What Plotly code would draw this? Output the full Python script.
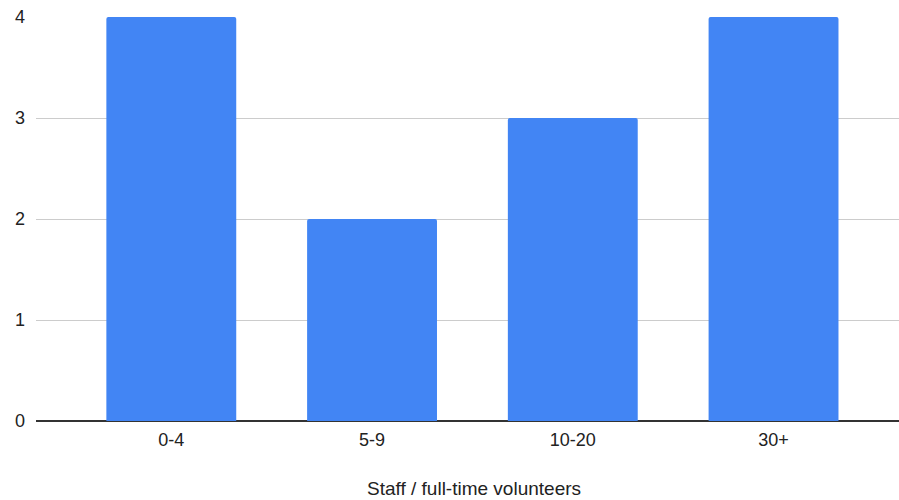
import plotly.graph_objects as go

# Staff size buckets and how many organisations fall into each
categories = ["0-4", "5-9", "10-20", "30+"]
counts = [4, 2, 3, 4]
y_ticks = [0, 1, 2, 3, 4]
x_title = "Staff / full-time volunteers"

FONT = "Liberation Sans, Arial, sans-serif"
TEXT = "#222222"

fig = go.Figure(
    go.Bar(
        x=categories,
        y=counts,
        marker=dict(color="#4285F4", line=dict(width=0)),
        hoverinfo="x+y",
    )
)

fig.update_layout(
    width=899,
    height=500,
    margin=dict(l=36, r=0, t=17, b=79),
    paper_bgcolor="white",
    plot_bgcolor="white",
    bargap=0.353,
    barcornerradius=2,
    showlegend=False,
    font=dict(family=FONT, size=18, color=TEXT),
    xaxis=dict(
        type="category",
        range=[-0.674, 3.625],
        showgrid=False,
        showline=False,
        zeroline=False,
        ticks="",
        ticklabelstandoff=6,
        tickfont=dict(family=FONT, size=18, color=TEXT),
    ),
    yaxis=dict(
        range=[0, 4],
        tickvals=y_ticks,
        showgrid=True,
        gridcolor="#cccccc",
        gridwidth=1,
        zeroline=True,
        zerolinecolor="#333333",
        zerolinewidth=1.5,
        showline=False,
        ticks="",
        ticklabelstandoff=10,
        tickfont=dict(family=FONT, size=18, color=TEXT),
    ),
    annotations=[
        dict(
            text=x_title,
            xref="paper",
            yref="paper",
            x=0.507,
            y=-0.167,
            xanchor="center",
            yanchor="middle",
            showarrow=False,
            font=dict(family=FONT, size=19, color=TEXT),
        )
    ],
)

fig.write_html("out.html")
